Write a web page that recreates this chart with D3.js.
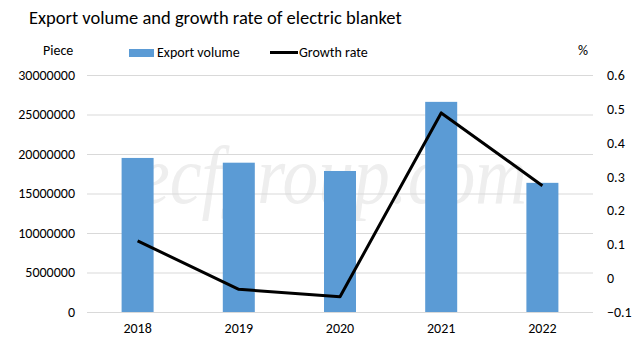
<!DOCTYPE html>
<html>
<head>
<meta charset="utf-8">
<script src="https://cdn.jsdelivr.net/npm/d3@7/dist/d3.min.js"></script>
<style>
	body { margin: 0; background: #fff; }
	text { font-family: Carlito, Calibri, "Open Sans", sans-serif; fill: #000; }
</style>
</head>
<body>
<div id="chart"></div>
<script>
// data
var years = ['2018', '2019', '2020', '2021', '2022'];
var volume = [19500000, 18900000, 17850000, 26600000, 16350000];
var growth = [0.11, -0.033, -0.055, 0.488, 0.273];
var leftTicks = [0, 5000000, 10000000, 15000000, 20000000, 25000000, 30000000];
var rightTicks = [-0.1, 0, 0.1, 0.2, 0.3, 0.4, 0.5, 0.6];

var W = 643, H = 341;
var m = {top: 75, right: 50, bottom: 29, left: 87};
var fs = '14px';

var svg = d3.select('#chart').append('svg')
	.attr('width', W).attr('height', H);

var x = d3.scaleBand().domain(years).range([m.left, W - m.right]);
var yL = d3.scaleLinear().domain([0, 30000000]).range([H - m.bottom, m.top]);
var yR = d3.scaleLinear().domain([-0.1, 0.6]).range([H - m.bottom, m.top]);

// title
svg.append('text').attr('x', 29).attr('y', 24)
	.style('font-size', '18.5px').text('Export volume and growth rate of electric blanket');

// watermark
svg.append('text').attr('x', 138).attr('y', 203)
	.attr('textLength', 389).attr('lengthAdjust', 'spacingAndGlyphs')
	.style('font-family', '"Liberation Serif", serif').style('font-style', 'italic')
	.style('font-size', '83px').style('fill', '#eeeeee')
	.text('ecfgroup.com');

// gridlines
svg.append('g').selectAll('line').data(leftTicks).enter().append('line')
	.attr('x1', m.left).attr('x2', W - m.right)
	.attr('y1', function(d){ return yL(d) + 0.5; })
	.attr('y2', function(d){ return yL(d) + 0.5; })
	.attr('stroke', '#d9d9d9').attr('stroke-width', 1);

// axes (text only)
var axL = svg.append('g').attr('transform', 'translate(' + (m.left - 12) + ',0)')
	.call(d3.axisLeft(yL).tickValues(leftTicks).tickSize(0).tickFormat(d3.format('d')));
var axR = svg.append('g').attr('transform', 'translate(' + (W - m.right + 14) + ',0)')
	.call(d3.axisRight(yR).tickValues(rightTicks).tickSize(0).tickFormat(function(d){
		return d3.format('.1~f')(d);
	}));
var axB = svg.append('g').attr('transform', 'translate(0,' + (H - m.bottom + 8) + ')')
	.call(d3.axisBottom(x).tickSize(0));
[axL, axR, axB].forEach(function(a){
	a.select('.domain').remove();
	a.selectAll('text').style('font-size', fs).style('font-family', 'Carlito, Calibri, "Open Sans", sans-serif').attr('fill', '#000');
});
axL.selectAll('text').attr('x', 0);
axR.selectAll('text').attr('x', 0);

// bars
var bw = 32;
svg.append('g').selectAll('rect').data(volume).enter().append('rect')
	.attr('x', function(d, i){ return x(years[i]) + x.bandwidth() / 2 - bw / 2; })
	.attr('y', function(d){ return yL(d); })
	.attr('width', bw)
	.attr('height', function(d){ return yL(0) - yL(d); })
	.attr('fill', '#5b9bd5');

// growth line
var line = d3.line()
	.x(function(d, i){ return x(years[i]) + x.bandwidth() / 2; })
	.y(function(d){ return yR(d); });
svg.append('path').datum(growth).attr('d', line)
	.attr('fill', 'none').attr('stroke', '#000').attr('stroke-width', 3)
	.attr('stroke-linejoin', 'round');

// unit labels
svg.append('text').attr('x', 43).attr('y', 55).style('font-size', fs).text('Piece');
svg.append('text').attr('x', 578).attr('y', 55).style('font-size', fs).text('%');

// legend
svg.append('rect').attr('x', 129).attr('y', 49).attr('width', 25).attr('height', 8).attr('fill', '#5b9bd5');
svg.append('text').attr('x', 157).attr('y', 57).style('font-size', fs).text('Export volume');
svg.append('line').attr('x1', 270).attr('x2', 298).attr('y1', 52.5).attr('y2', 52.5)
	.attr('stroke', '#000').attr('stroke-width', 3);
svg.append('text').attr('x', 299).attr('y', 57).style('font-size', fs).text('Growth rate');
</script>
</body>
</html>
